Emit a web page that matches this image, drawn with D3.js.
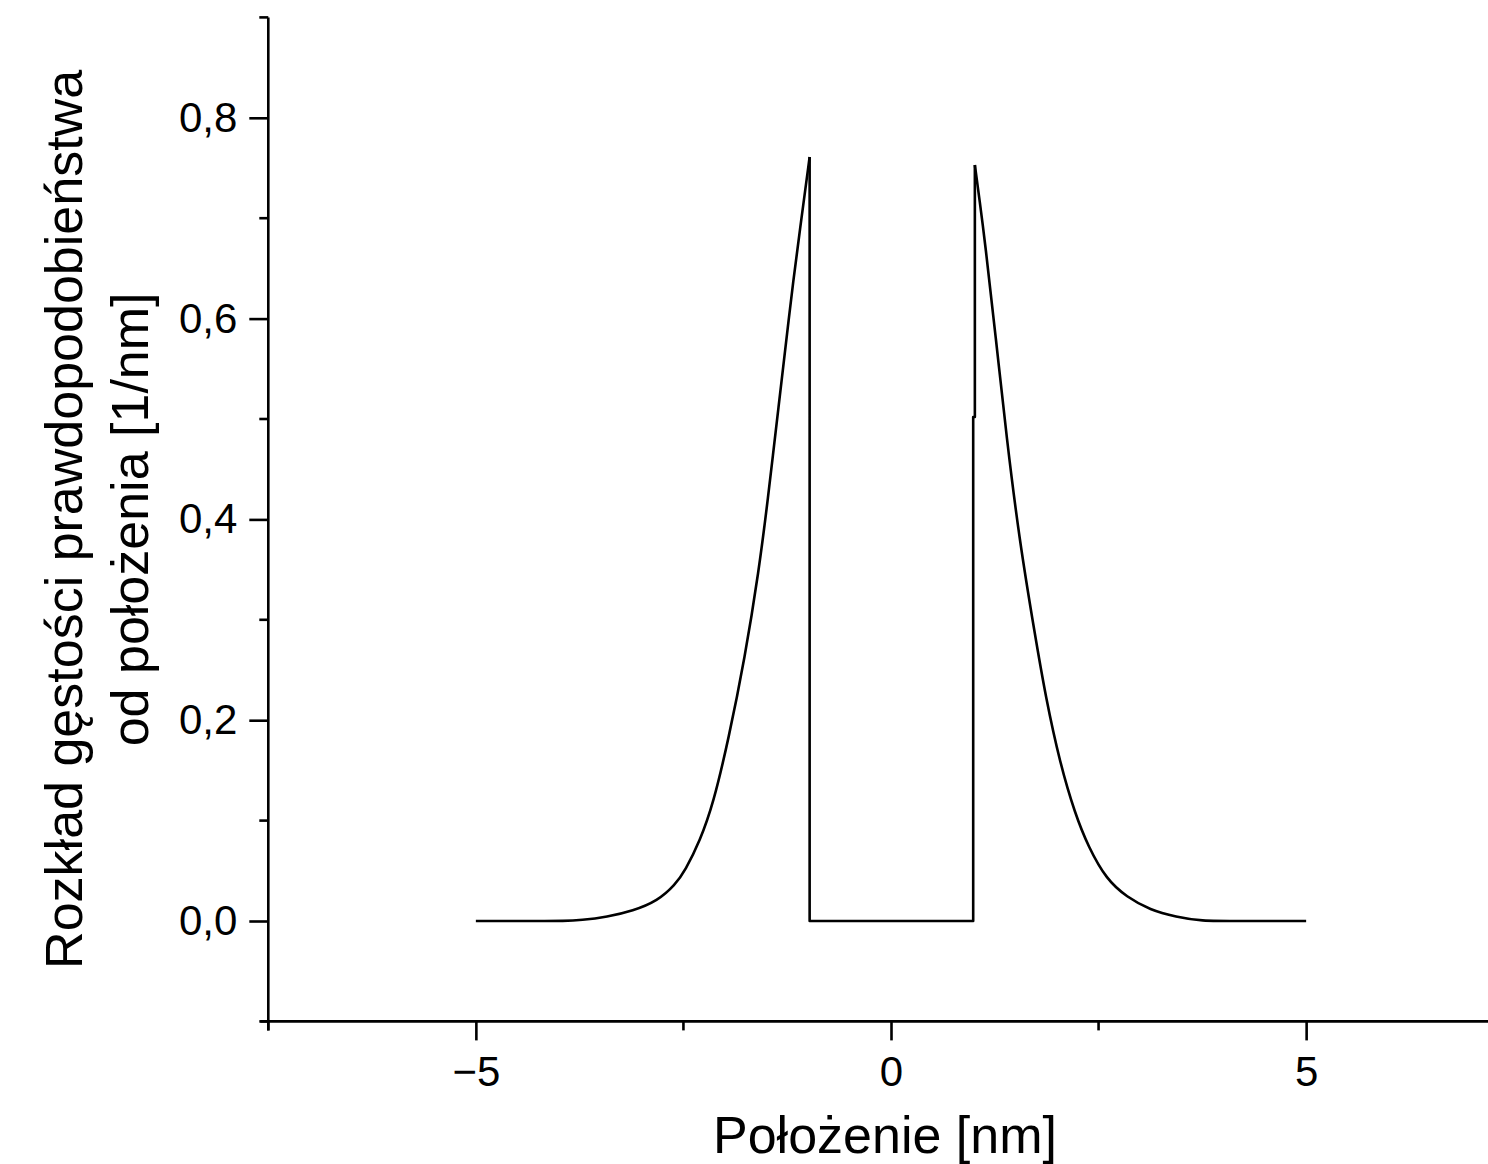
<!DOCTYPE html>
<html><head><meta charset="utf-8">
<script src="https://cdn.jsdelivr.net/npm/d3@7"></script>
<style>
html,body{margin:0;padding:0;background:#fff;overflow:hidden}
svg{display:block}
text{font-family:"Liberation Sans",Arial,sans-serif;fill:#000}
</style></head>
<body>
<script>
// Data (position in nm, probability density in 1/nm)
const leftTailX  = [-5.00,-4.20,-3.95,-3.73,-3.42,-3.11,-2.81,-2.60,-2.48,-2.30,-2.14,-1.96,-1.76,-1.59,-1.49,-1.345,-1.26,-1.18,-1.08,-0.98];
const leftTailY  = [0.000,0.000,0.000,0.0008,0.004,0.010,0.020,0.036,0.050,0.080,0.117,0.180,0.262,0.350,0.415,0.519,0.579,0.636,0.699,0.761];
const wellX      = [-0.98,-0.98,0.99,0.99,1.01,1.01];
const wellY      = [0.761,0.000,0.000,0.502,0.502,0.753];
const rightTailX = [1.01,1.07,1.13,1.265,1.393,1.545,1.734,1.863,2.036,2.216,2.376,2.598,2.839,3.119,3.441,3.72,4.20,5.00];
const rightTailY = [0.753,0.716,0.678,0.579,0.481,0.380,0.285,0.223,0.157,0.107,0.074,0.041,0.024,0.011,0.004,0.000,0.000,0.000];
const xDomain = [-7.5, 7.5];
const yDomain = [-0.1, 0.9];
const xMajorTicks = [-5, 0, 5];
const xMinorTicks = [-7.5, -2.5, 2.5, 7.5];
const yMajorTicks = [0, 0.2, 0.4, 0.6, 0.8];
const yMinorTicks = [-0.1, 0.1, 0.3, 0.5, 0.7, 0.9];
const xTitle = "Położenie [nm]";
const yTitleLines = ["Rozkład gęstości prawdopodobieństwa", "od położenia [1/nm]"];

const W = 1488, H = 1164;
const svg = d3.select("body").append("svg").attr("width", W).attr("height", H);

const x = d3.scaleLinear().domain(xDomain).range([268.3, 1513.7]);
const y = d3.scaleLinear().domain(yDomain).range([1021.4, 17.4]);

const fmtY = v => d3.format(".1f")(v).replace(".", ",");
const fmtX = v => d3.format("d")(v).replace("-", "\u2212");
const FONT = '"Liberation Sans", Arial, sans-serif';

// X axis
const gx = svg.append("g").attr("transform", `translate(0,${y(yDomain[0])})`);
gx.call(d3.axisBottom(x).tickValues(xMajorTicks).tickSize(19).tickPadding(16).tickFormat(fmtX));
gx.call(g => g.select(".domain").attr("d", `M${x(xDomain[0]) - 8},0H${x(xDomain[1])}`));
gx.selectAll("text").attr("font-size", 42).attr("font-family", FONT);
gx.selectAll("line.minor").data(xMinorTicks).enter().append("line").attr("class", "minor")
  .attr("x1", d => x(d)).attr("x2", d => x(d)).attr("y1", 0).attr("y2", 9);
gx.selectAll("line, path").attr("stroke", "#000").attr("stroke-width", 2.6);

// Y axis
const gy = svg.append("g").attr("transform", `translate(${x(xDomain[0])},0)`);
gy.call(d3.axisLeft(y).tickValues(yMajorTicks).tickSize(19).tickPadding(12).tickFormat(fmtY));
gy.call(g => g.select(".domain").attr("d", `M0,${y(yDomain[1])}V${y(yDomain[0]) + 9}`));
gy.selectAll("text").attr("font-size", 42).attr("font-family", FONT);
gy.selectAll("line.minor").data(yMinorTicks).enter().append("line").attr("class", "minor")
  .attr("x1", -9).attr("x2", 0).attr("y1", d => y(d)).attr("y2", d => y(d));
gy.selectAll("line, path").attr("stroke", "#000").attr("stroke-width", 2.6);

// Curve
const zip = (a, b) => a.map((v, i) => [v, b[i]]);
const smooth = d3.line().x(d => x(d[0])).y(d => y(d[1])).curve(d3.curveBasis);
const straight = d3.line().x(d => x(d[0])).y(d => y(d[1]));
const curveG = svg.append("g").attr("fill", "none").attr("stroke", "#000")
  .attr("stroke-width", 2.6).attr("stroke-linejoin", "round");
curveG.append("path").attr("d", smooth(zip(leftTailX, leftTailY)));
curveG.append("path").attr("d", straight(zip(wellX, wellY)));
curveG.append("path").attr("d", smooth(zip(rightTailX, rightTailY)));

// Titles
svg.append("text")
  .attr("x", 885).attr("y", 1153)
  .attr("text-anchor", "middle").attr("font-size", 52)
  .text(xTitle);

const cy = (y(yDomain[0]) + y(yDomain[1])) / 2;
[82, 148].forEach((bx, i) => {
  svg.append("text")
    .attr("transform", `translate(${bx},${cy}) rotate(-90)`)
    .attr("text-anchor", "middle").attr("font-size", 52)
    .text(yTitleLines[i]);
});
</script>
</body></html>
